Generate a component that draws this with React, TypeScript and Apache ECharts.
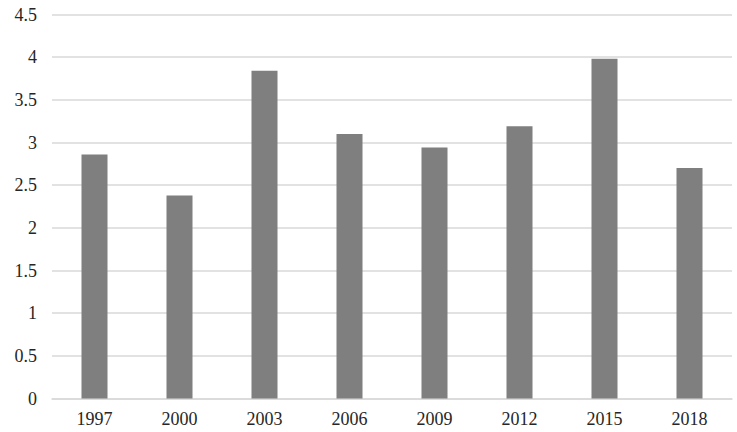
import React, { useEffect, useRef } from "react";
import * as echarts from "echarts";

const categories = ["1997", "2000", "2003", "2006", "2009", "2012", "2015", "2018"];
const values = [2.86, 2.38, 3.84, 3.1, 2.94, 3.19, 3.98, 2.7];
const yMin = 0;
const yMax = 4.5;
const yInterval = 0.5;

export default function App() {
  const ref = useRef<HTMLDivElement>(null);
  useEffect(() => {
    if (!ref.current) return;
    const chart = echarts.init(ref.current, undefined, { renderer: "svg" });
    chart.setOption({
      animation: false,
      backgroundColor: "#ffffff",
      grid: { left: 52, right: 5, top: 14.5, bottom: 33.5, containLabel: false },
      xAxis: {
        type: "category",
        data: categories,
        axisTick: { show: false },
        axisLine: { lineStyle: { color: "#d9d9d9", width: 1.5 } },
        axisLabel: {
          color: "#262626",
          fontFamily: "Liberation Serif",
          fontSize: 18,
          margin: 11,
        },
      },
      yAxis: {
        type: "value",
        min: yMin,
        max: yMax,
        interval: yInterval,
        axisLine: { show: false },
        axisTick: { show: false },
        splitLine: { lineStyle: { color: "#d9d9d9", width: 1.5 } },
        axisLabel: {
          color: "#262626",
          fontFamily: "Liberation Serif",
          fontSize: 18,
          margin: 15,
        },
      },
      series: [
        {
          type: "bar",
          data: values,
          barWidth: "30.6%",
          itemStyle: { color: "#7f7f7f" },
        },
      ],
    });
    return () => chart.dispose();
  }, []);
  return <div ref={ref} style={{ width: 737, height: 432, position: "absolute", left: 0, top: 0 }} />;
}
